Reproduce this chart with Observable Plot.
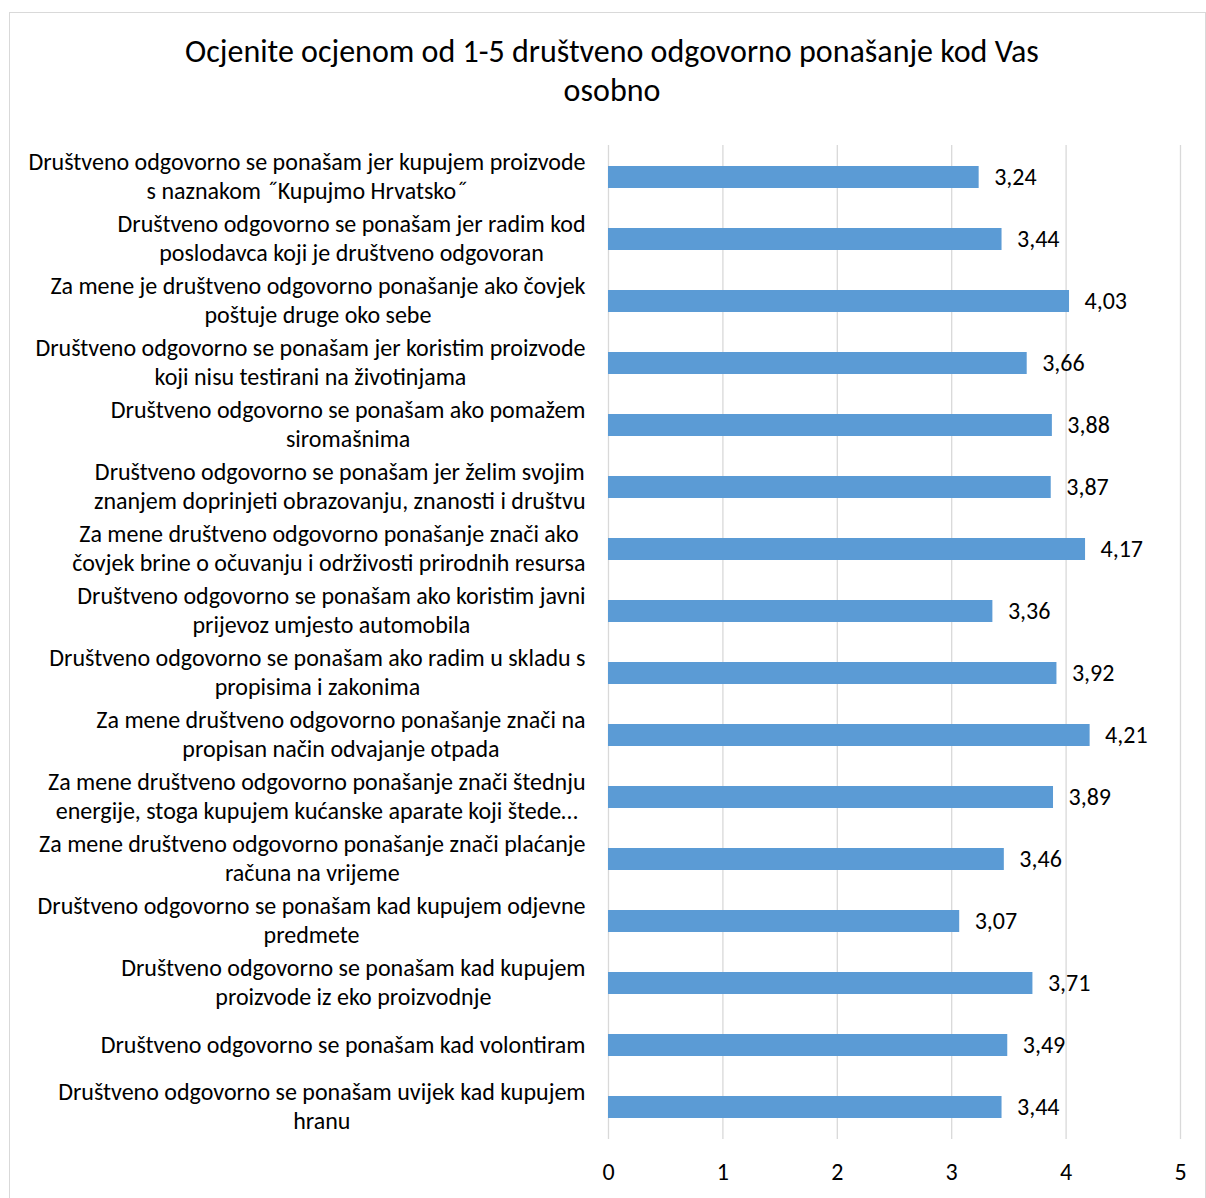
<!DOCTYPE html>
<html><head><meta charset="utf-8">
<script src="https://cdn.jsdelivr.net/npm/d3@7"></script>
<script src="https://cdn.jsdelivr.net/npm/@observablehq/plot@0.6"></script>
<style>
body{margin:0;background:#fff;font-family:Carlito,Calibri,Lato,sans-serif;}
#frame{position:absolute;left:9px;top:12px;width:1197px;height:1186px;border:1px solid #d9d9d9;border-bottom:none;box-sizing:border-box;}
#title{position:absolute;left:0;top:32px;width:1224px;text-align:center;font-size:32px;line-height:39px;color:#000;}
#chart{position:absolute;left:0;top:130px;}
</style></head><body>
<div id="frame"></div>
<div id="title">Ocjenite ocjenom od 1-5 društveno odgovorno ponašanje kod Vas<br>osobno</div>
<div id="chart"></div>
<script>
const categories = [
  "Društveno odgovorno se ponašam jer kupujem proizvode\ns naznakom ˝Kupujmo Hrvatsko˝",
  "Društveno odgovorno se ponašam jer radim kod\nposlodavca koji je društveno odgovoran",
  "Za mene je društveno odgovorno ponašanje ako čovjek\npoštuje druge oko sebe",
  "Društveno odgovorno se ponašam jer koristim proizvode\nkoji nisu testirani na životinjama",
  "Društveno odgovorno se ponašam ako pomažem\nsiromašnima",
  "Društveno odgovorno se ponašam jer želim svojim\nznanjem doprinjeti obrazovanju, znanosti i društvu",
  "Za mene društveno odgovorno ponašanje znači ako\nčovjek brine o očuvanju i održivosti prirodnih resursa",
  "Društveno odgovorno se ponašam ako koristim javni\nprijevoz umjesto automobila",
  "Društveno odgovorno se ponašam ako radim u skladu s\npropisima i zakonima",
  "Za mene društveno odgovorno ponašanje znači na\npropisan način odvajanje otpada",
  "Za mene društveno odgovorno ponašanje znači štednju\nenergije, stoga kupujem kućanske aparate koji štede…",
  "Za mene društveno odgovorno ponašanje znači plaćanje\nračuna na vrijeme",
  "Društveno odgovorno se ponašam kad kupujem odjevne\npredmete",
  "Društveno odgovorno se ponašam kad kupujem\nproizvode iz eko proizvodnje",
  "Društveno odgovorno se ponašam kad volontiram",
  "Društveno odgovorno se ponašam uvijek kad kupujem\nhranu"
];
const values = [3.24, 3.44, 4.03, 3.66, 3.88, 3.87, 4.17, 3.36, 3.92, 4.21, 3.89, 3.46, 3.07, 3.71, 3.49, 3.44];
const xTicks = [0, 1, 2, 3, 4, 5];

const data = categories.map((c, i) => ({category: c, value: values[i]}));
const fmt = v => v.toFixed(2).replace(".", ",");
const font = "Carlito, Calibri, Lato, sans-serif";

const plot = Plot.plot({
  width: 1206, height: 1068,
  marginLeft: 608, marginRight: 26, marginTop: 15, marginBottom: 59,
  style: {fontFamily: font, fontSize: "24px", color: "#000", background: "transparent", overflow: "visible"},
  x: {domain: [0, 5], ticks: xTicks, tickSize: 0, tickPadding: 23, label: null, tickFormat: d => String(d)},
  y: {domain: categories, padding: 0, axis: null, label: null},
  marks: [
    Plot.ruleX(xTicks, {stroke: "#d9d9d9", strokeWidth: 1.3}),
    Plot.barX(data, {x: "value", y: "category", fill: "#5b9bd5", insetTop: 20, insetBottom: 20}),
    Plot.text(data, {x: "value", y: "category", text: d => fmt(d.value), textAnchor: "start", dx: 15, dy: 0, fill: "#000", fontSize: 24}),
    Plot.text(data, {y: "category", text: "category", frameAnchor: "left", textAnchor: "end", dy: -2, fill: "#000", fontSize: 24, lineHeight: 1.2})
  ]
});
document.getElementById("chart").append(plot);

// center each wrapped label block, with its widest line ending near the axis
const groups = plot.querySelectorAll('g[aria-label="text"]');
const labelG = groups[groups.length - 1];
labelG.querySelectorAll("text").forEach(t => {
  const spans = t.querySelectorAll("tspan");
  if (!spans.length) {
    const w = t.getComputedTextLength();
    t.setAttribute("text-anchor", "middle");
    t.setAttribute("x", -23 - w / 2);
    return;
  }
  let maxW = 0;
  spans.forEach(s => { maxW = Math.max(maxW, s.getComputedTextLength()); });
  t.setAttribute("text-anchor", "middle");
  spans.forEach(s => s.setAttribute("x", -23 - maxW / 2));
});
</script>
</body></html>
